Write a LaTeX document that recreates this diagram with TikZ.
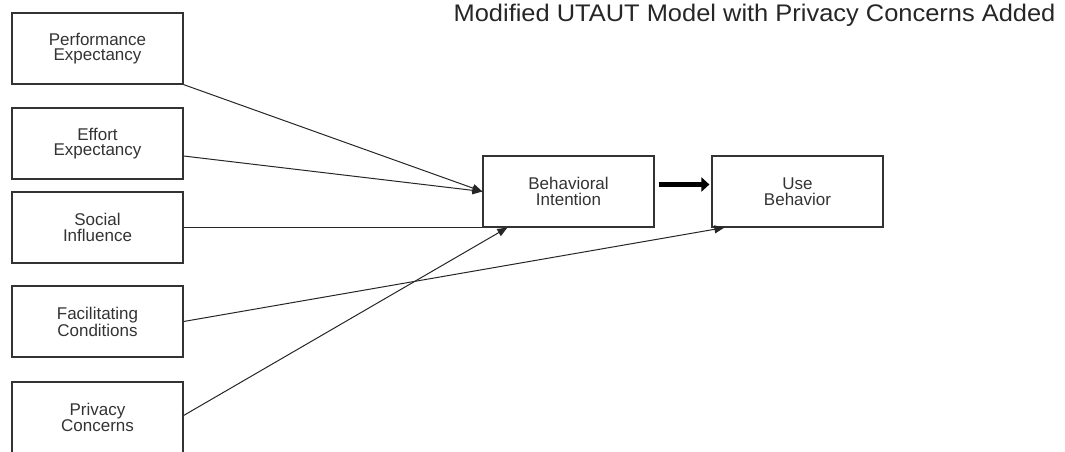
\documentclass[tikz,border=0pt]{standalone}
\usepackage{fontspec}
\usetikzlibrary{arrows.meta,calc}
\newfontfamily\boxfont{Liberation Sans}
\newfontfamily\titlefont[FakeStretch=1.06]{Liberation Sans}
\definecolor{txtgray}{HTML}{333333}
\begin{document}
\begin{tikzpicture}[x=1pt,y=-1pt,
  box/.style={draw=black!80,line width=1.2pt,minimum width=171pt,minimum height=71pt,inner sep=0pt,
    align=center,text=txtgray,font=\boxfont\fontsize{17}{15.5}\selectfont},
  conn/.style={draw=black!85,line width=1pt},
  arr/.style={conn,-{Triangle[length=10pt,width=8pt]}},
  thick arrow/.style={draw=black,line width=5pt,-{Triangle[length=8pt,width=14pt]}}]
\useasboundingbox (0,0) rectangle (1065,452);
\node[box] (PE) at (97.5,48.5) {Performance\\Expectancy};
\node[box] (EE) at (97.5,143.5) {Effort\\Expectancy};
\node[box] (SI) at (97.5,227.5) {Social\\Influence};
\node[box] (FC) at (97.5,321.5) {Facilitating\\Conditions};
\node[box] (PC) at (97.5,417.5) {Privacy\\Concerns};
\node[box] (BI) at (568.5,191.5) {Behavioral\\Intention};
\node[box] (UB) at (797.5,191.5) {Use\\Behavior};
\node[anchor=east,text=black!85,font=\titlefont\fontsize{24}{26}\selectfont] (T) at (1059,15) {Modified UTAUT Model with Privacy Concerns Added};
\draw[arr] (PE.south east) -- (BI.west);
\draw[arr] ([yshift=-12.5pt]EE.east) -- (BI.west);
\draw[conn] (SI.east |- BI.south west) -- (BI.south west);
\draw[arr] (FC.east) -- ([xshift=13pt]UB.south west);
\draw[arr] ([yshift=2pt]PC.east) -- ([xshift=25pt]BI.south west);
\draw[thick arrow] ([xshift=4pt,yshift=7pt]BI.east) -- ([xshift=-2pt,yshift=7pt]UB.west);
\end{tikzpicture}
\end{document}
